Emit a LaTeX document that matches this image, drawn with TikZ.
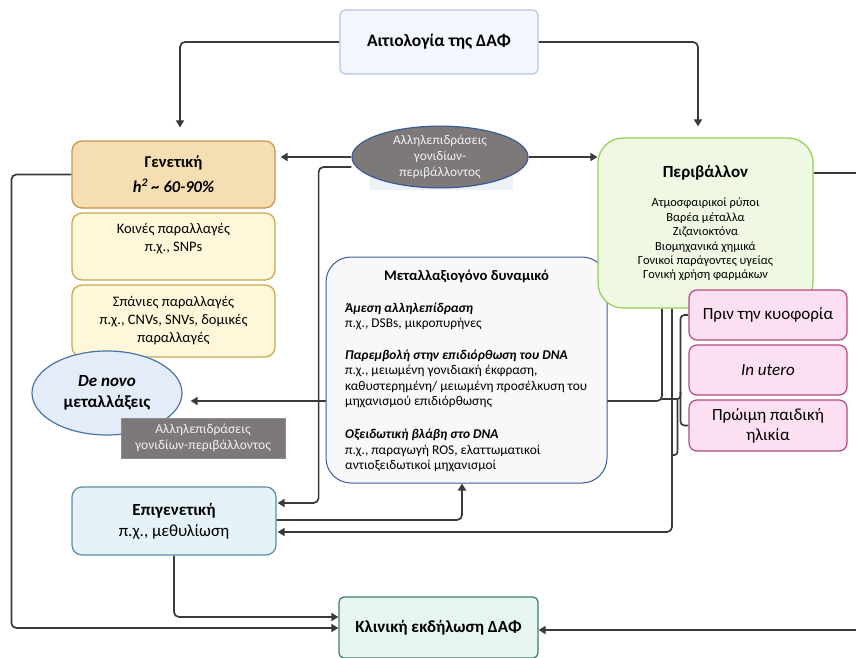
\documentclass[tikz,border=0pt]{standalone}
\usepackage{fontspec}
\setmainfont{Carlito}
\usetikzlibrary{shapes.geometric,arrows.meta,backgrounds}
\pgfdeclarelayer{bottom}
\pgfsetlayers{bottom,background,main}
\definecolor{ln}{HTML}{3A3A3A}
\definecolor{topF}{HTML}{F3F6FC}\definecolor{topD}{HTML}{B4C6E7}
\definecolor{genF}{HTML}{F5DFB2}\definecolor{genD}{HTML}{C4944C}
\definecolor{koF}{HTML}{FFF7DA}\definecolor{koD}{HTML}{C8A64C}
\definecolor{dnF}{HTML}{E3ECF8}\definecolor{dnD}{HTML}{4A74A6}
\definecolor{gry}{HTML}{7D7978}\definecolor{gryT}{HTML}{F0F0F0}
\definecolor{metF}{HTML}{F8F8FB}\definecolor{metD}{HTML}{3A5A9A}
\definecolor{envF}{HTML}{EFF8E2}\definecolor{envD}{HTML}{92D050}
\definecolor{pkF}{HTML}{FCE0F1}\definecolor{pkD}{HTML}{B24A7D}
\definecolor{epF}{HTML}{E5F3F9}\definecolor{epD}{HTML}{5A8EA5}
\definecolor{clF}{HTML}{E6F5F2}\definecolor{clD}{HTML}{3F7B6B}
\definecolor{strip}{HTML}{EEF1F8}
\newcommand\fsz[2]{\fontsize{#1pt}{#2pt}\selectfont}
\begin{document}
\begin{tikzpicture}[x=1pt,y=-1pt,
  box/.style={draw, rectangle, line width=1.2pt, inner sep=0pt, align=center, text=black},
  conn/.style={draw=ln, line width=1.7pt, rounded corners=5pt},
  arr/.style={conn, -{Triangle[length=7pt,width=8pt]}}]
\useasboundingbox (0,0) rectangle (856,658);
\begin{pgfonlayer}{bottom}
\fill[white] (0,0) rectangle (856,658);
\fill[strip] (370,176) rectangle (513,190);
\end{pgfonlayer}

\node[box, fill=topF, draw=topD, rounded corners=5pt, minimum width=198pt, minimum height=64pt, font=\fsz{17.5}{20}\bfseries] (top) at (439,42) {Αιτιολογία της ΔΑΦ};

\node[box, fill=genF, draw=genD, rounded corners=10pt, minimum width=203pt, minimum height=67pt, font=\fsz{16.5}{25}\bfseries] (gen) at (173.5,174.5) {Γενετική\\\textit{h\textsuperscript{2} \textasciitilde\ 60-90\%}};

\node[box, fill=koF, draw=koD, rounded corners=10pt, minimum width=203pt, minimum height=67pt, font=\fsz{14.5}{18}] (koines) at (173.5,246.5) {Κοινές παραλλαγές\\π.χ., SNPs\\\mbox{}};

\node[box, fill=koF, draw=koD, rounded corners=10pt, minimum width=203pt, minimum height=72pt, font=\fsz{14.5}{18}] (spanies) at (173.5,321) {Σπάνιες παραλλαγές\\π.χ., CNVs, SNVs, δομικές\\παραλλαγές};

\node[draw=dnD, fill=dnF, ellipse, line width=1.2pt, inner sep=0pt, minimum width=150pt, minimum height=84pt, align=center, font=\fsz{17}{21}\bfseries] (denovo) at (107,393) {\textit{De novo}\\μεταλλάξεις};

\node[rectangle, fill=gry, draw=gry!85!white, inner sep=0pt, minimum width=164pt, minimum height=40pt, align=center, text=gryT, font=\fsz{13.5}{16.5}] (gxe2) at (203,438) {Αλληλεπιδράσεις\\γονιδίων-περιβάλλοντος};

\node[draw=metD, fill=gry, ellipse, line width=1.2pt, inner sep=0pt, minimum width=176pt, minimum height=60pt, align=center, text=gryT, font=\fsz{13.3}{16}] (interact) at (440,157) {Αλληλεπιδράσεις\\γονιδίων-\\περιβάλλοντος};

\node[box, fill=metF, draw=metD, line width=1pt, rounded corners=25pt, minimum width=281pt, minimum height=226pt] (metal) at (466.5,370) {};
\node[font=\fsz{14.6}{16}\bfseries, inner sep=0pt] (metalT) at (466.5,276) {Μεταλλαξιογόνο δυναμικό};
\node[font=\fsz{13.4}{15.6}, inner sep=0pt, anchor=north west, align=left] (metalB) at (345,302.5) {%
\textbf{\textit{Άμεση αλληλεπίδραση}}\\
π.χ., DSBs, μικροπυρήνες\\[15.6pt]
\textbf{\textit{Παρεμβολή στην επιδιόρθωση του DNA}}\\
π.χ., μειωμένη γονιδιακή έκφραση,\\
καθυστερημένη/ μειωμένη προσέλκυση του\\
μηχανισμού επιδιόρθωσης\\[17pt]
\textbf{\textit{Οξειδωτική βλάβη στο DNA}}\\
π.χ., παραγωγή ROS, ελαττωματικοί\\
αντιοξειδωτικοί μηχανισμοί};

\node[box, fill=envF, draw=envD, rounded corners=25pt, minimum width=215pt, minimum height=170pt] (env) at (705.5,223) {};
\node[font=\fsz{17}{18}\bfseries, inner sep=0pt] (envT) at (705.5,173) {Περιβάλλον};
\node[font=\fsz{12.4}{14.4}, inner sep=0pt, align=center, anchor=north] (envB) at (705.5,198) {Ατμοσφαιρικοί ρύποι\\Βαρέα μέταλλα\\Ζιζανιοκτόνα\\Βιομηχανικά χημικά\\Γονικοί παράγοντες υγείας\\Γονική χρήση φαρμάκων};

\node[box, fill=pkF, draw=pkD, rounded corners=8pt, minimum width=158pt, minimum height=50pt, font=\fsz{17}{20}] (pink1) at (768,315) {Πριν την κυοφορία};
\node[box, fill=pkF, draw=pkD, rounded corners=8pt, minimum width=158pt, minimum height=50pt, font=\fsz{17}{20}\itshape] (pink2) at (768,370) {In utero};
\node[box, fill=pkF, draw=pkD, rounded corners=8pt, minimum width=158pt, minimum height=51pt, font=\fsz{17}{20}] (pink3) at (768,425.5) {Πρώιμη παιδική\\ηλικία};

\node[box, fill=epF, draw=epD, rounded corners=10pt, minimum width=204pt, minimum height=68pt, font=\fsz{17}{21}] (epi) at (174,521) {\textbf{Επιγενετική}\\π.χ., μεθυλίωση};

\node[box, fill=clF, draw=clD, rounded corners=5pt, minimum width=199pt, minimum height=61pt, font=\fsz{17}{18}\bfseries] (clin) at (438.5,627.5) {Κλινική εκδήλωση ΔΑΦ};

\begin{scope}[on background layer]
\draw[arr, shorten >=13pt] (top.west) -| ([xshift=6.5pt]gen.north);
\draw[arr, shorten >=11pt] (top.east) -| ([xshift=-7.5pt]env.north);
\draw[arr, shorten >=5pt] (interact.west) -- (gen.east |- interact.west);
\draw[arr] (interact.east) -- (env.west |- interact.east);
\draw[arr, shorten >=1pt] ([yshift=-10pt]interact.west) -| ([xshift=42pt,yshift=18pt]epi.east) -- ([yshift=18pt]epi.east);
\draw[arr] ([xshift=-43.5pt]env.south) |- ([xshift=8pt,yshift=-8pt]denovo.east);
\draw[arr, shorten >=1pt] ([xshift=-33.5pt]env.south) |- ([yshift=-11pt]epi.east);
\draw[arr] ([yshift=1pt]epi.east) -| ([xshift=-4.5pt]metal.south);
\draw[arr] (gen.west) -- ++(-60,0) |- ([yshift=-0.5pt]clin.west);
\draw[arr] (epi.south) |- ([yshift=10.5pt]clin.west);
\draw[arr] ([yshift=50pt]env.east) -- ++(70,0) |- ([yshift=-2.5pt]clin.east);
% bracket of the three periods
\draw[conn, rounded corners=4pt] (pink1.west) -- ++(-8,0) |- (pink3.west);
\draw[conn, rounded corners=3pt] ([xshift=-8pt,yshift=-22pt]pink2.west) -- ([xshift=-8pt,yshift=-29pt]pink2.west) -- ([xshift=-27pt,yshift=-29pt]pink2.west);
\draw[conn, rounded corners=3pt] ([xshift=-11pt,yshift=-29pt]pink2.west) -- ++(0,56) -- ++(-6,0);
\end{scope}
\end{tikzpicture}
\end{document}
